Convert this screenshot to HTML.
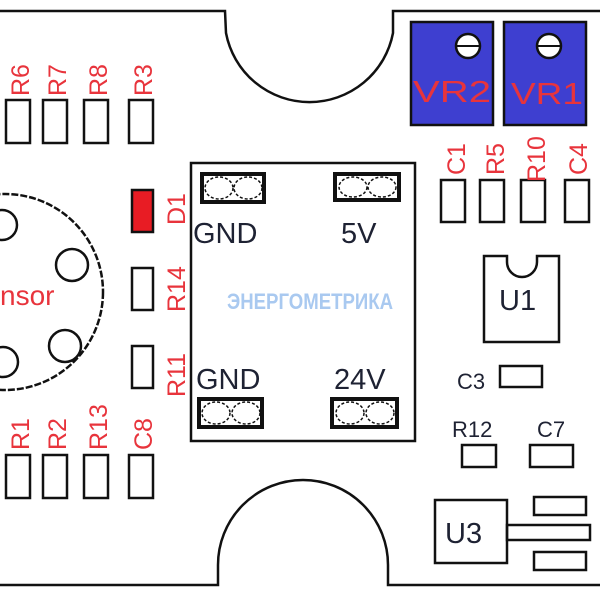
<!DOCTYPE html>
<html><head><meta charset="utf-8"><style>
html,body{margin:0;padding:0;background:#fff;}
svg{display:block;}
.r{fill:#e8343c;font-family:"Liberation Sans",sans-serif;font-size:25px;}
.k{fill:#1e2233;font-family:"Liberation Sans",sans-serif;}
</style></head><body>
<svg width="600" height="600" viewBox="0 0 600 600" xmlns="http://www.w3.org/2000/svg">
<g fill="none" stroke="#111" stroke-width="2.5">
<path d="M0,11 L225,11 L226,33 A85,85 0 0 0 393,33 L393,11 L600,11"/>
<path d="M0,585 L218,585 L218,565 A85,85 0 0 1 388,565 L388,585 L600,585"/>
<circle cx="5" cy="292" r="98" stroke-dasharray="7 2"/>
<circle cx="2" cy="225" r="15"/>
<circle cx="72" cy="265" r="16"/>
<circle cx="65" cy="346" r="16"/>
<circle cx="3" cy="362" r="15"/>
<rect x="6" y="100" width="24" height="43"/>
<rect x="43" y="100" width="24" height="43"/>
<rect x="84" y="100" width="24" height="43"/>
<rect x="129" y="100" width="24" height="43"/>
<rect x="6" y="455" width="24" height="43"/>
<rect x="43" y="455" width="24" height="43"/>
<rect x="84" y="455" width="24" height="43"/>
<rect x="129" y="455" width="24" height="43"/>
<rect x="132" y="190" width="21" height="42" fill="#e81c24"/>
<rect x="132" y="268" width="21" height="42"/>
<rect x="132" y="346" width="21" height="42"/>
<rect x="191" y="163" width="224" height="278"/>
<g stroke-width="4">
<rect x="202" y="174" width="62" height="28"/>
<rect x="335" y="174" width="64" height="26"/>
<rect x="199" y="399" width="63" height="28"/>
<rect x="332" y="399" width="65" height="28"/>
</g>
<g stroke-width="1.5" stroke-dasharray="3 2">
<ellipse cx="219" cy="188" rx="14" ry="11"/><ellipse cx="248" cy="188" rx="14" ry="11"/>
<ellipse cx="353" cy="187" rx="14" ry="10"/><ellipse cx="382" cy="187" rx="14" ry="10"/>
<ellipse cx="216" cy="413" rx="14" ry="11"/><ellipse cx="246" cy="413" rx="14" ry="11"/>
<ellipse cx="350" cy="413" rx="14" ry="11"/><ellipse cx="380" cy="413" rx="14" ry="11"/>
</g>
<rect x="441" y="180" width="24" height="42"/>
<rect x="480" y="180" width="24" height="42"/>
<rect x="521" y="180" width="24" height="42"/>
<rect x="565" y="180" width="24" height="42"/>
<path d="M484,256 L507,256 L507,262 A10,10 0 0 0 537,262 L537,256 L559,256 L559,342 L484,342 Z"/>
<rect x="500" y="366" width="42" height="21"/>
<rect x="462" y="445" width="34" height="22"/>
<rect x="530" y="445" width="43" height="22"/>
<rect x="435" y="500" width="72" height="63"/>
<rect x="534" y="497" width="52" height="18"/>
<rect x="507" y="525" width="83" height="15"/>
<rect x="534" y="552" width="52" height="18"/>
</g>
<g fill="#3e3fd0" stroke="#111" stroke-width="2.5">
<rect x="411" y="22" width="82" height="103"/>
<rect x="504" y="22" width="82" height="103"/>
</g>
<g fill="#fff" stroke="#111" stroke-width="2.5">
<circle cx="468" cy="46" r="12"/>
<circle cx="549" cy="46" r="12"/>
</g>
<g stroke="#111" stroke-width="2"><line x1="456" y1="46" x2="480" y2="46"/><line x1="537" y1="46" x2="561" y2="46"/></g>
<text class="r" x="413" y="102" style="font-size:31px" textLength="78" lengthAdjust="spacingAndGlyphs">VR2</text>
<text class="r" x="511" y="104" style="font-size:31px" textLength="72" lengthAdjust="spacingAndGlyphs">VR1</text>
<text class="r" x="0" y="305" style="font-size:28px">nsor</text>
<g class="r">
<text transform="translate(29,96) rotate(-90)">R6</text>
<text transform="translate(66,96) rotate(-90)">R7</text>
<text transform="translate(107,96) rotate(-90)">R8</text>
<text transform="translate(152,96) rotate(-90)">R3</text>
<text transform="translate(185,225) rotate(-90)">D1</text>
<text transform="translate(185,312) rotate(-90)">R14</text>
<text transform="translate(185,397) rotate(-90)">R11</text>
<text transform="translate(29,450) rotate(-90)">R1</text>
<text transform="translate(66,450) rotate(-90)">R2</text>
<text transform="translate(107,450) rotate(-90)">R13</text>
<text transform="translate(152,450) rotate(-90)">C8</text>
<text transform="translate(465,175) rotate(-90)">C1</text>
<text transform="translate(504,175) rotate(-90)">R5</text>
<text transform="translate(545,182) rotate(-90)">R10</text>
<text transform="translate(587,175) rotate(-90)">C4</text>
</g>
<g class="k" style="font-size:29px">
<text x="193" y="243">GND</text>
<text x="341" y="243">5V</text>
<text x="196" y="389">GND</text>
<text x="334" y="389">24V</text>
<text x="499" y="310">U1</text>
<text x="445" y="543">U3</text>
</g>
<g class="k" style="font-size:22px">
<text x="457" y="389">C3</text>
<text x="452" y="437">R12</text>
<text x="537" y="437">C7</text>
</g>
<text x="227" y="309" font-family="Liberation Sans, sans-serif" font-weight="bold" font-size="22" fill="#a9c9f0" textLength="166" lengthAdjust="spacingAndGlyphs">ЭНЕРГОМЕТРИКА</text>
</svg>
</body></html>
